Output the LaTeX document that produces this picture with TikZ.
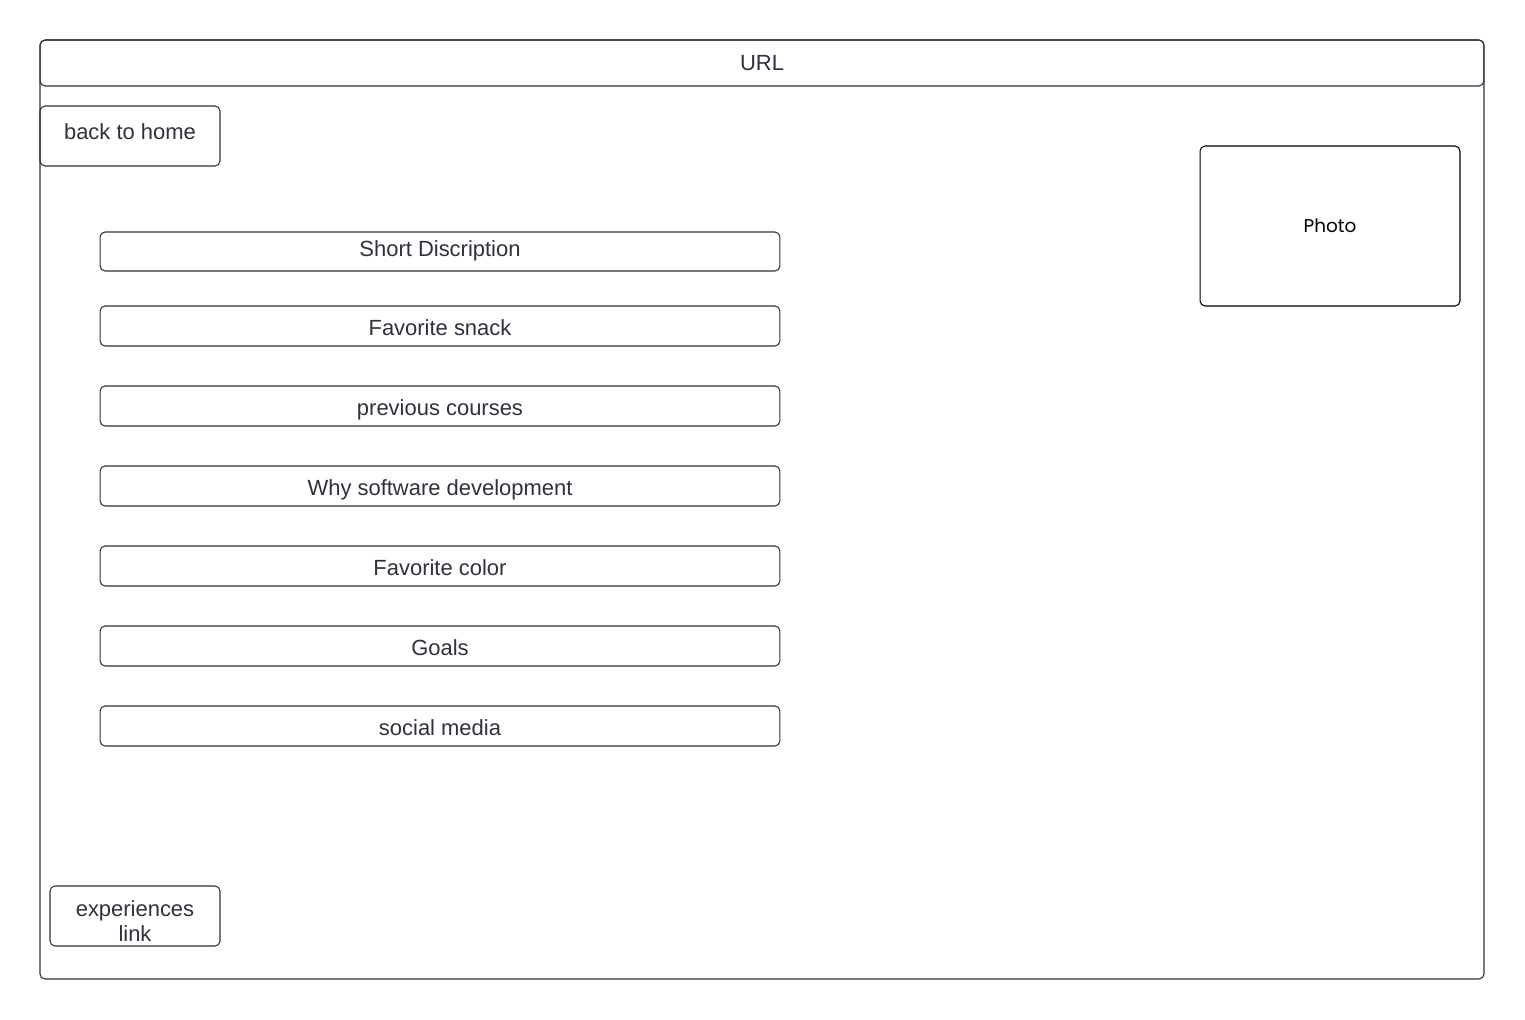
\documentclass[tikz,border=0pt]{standalone}
\usepackage{fontspec}
\setmainfont{Liberation Sans}
\newfontfamily\photofont{Poppins}
\definecolor{wire}{HTML}{2E323C}

\tikzset{
  box/.style={draw=wire, line width=0.6pt, rounded corners=0.1cm, text=wire, inner sep=0pt},
  field/.style={box, minimum width=13.6cm, minimum height=0.8cm, text height=12pt, text depth=0.7pt},
}

\begin{document}
\begin{tikzpicture}[x=0.02cm, y=-0.02cm, font=\fontsize{12.5}{14.7}\selectfont]
    % page size and background
    \fill[white] (0,0) rectangle (1525,1019);
    \useasboundingbox (0,0) rectangle (1525,1019);

    % browser window
    \draw[wire, line width=0.6pt, rounded corners=0.1cm] (40,40) rectangle (1484,979);
    \node[box, minimum width=28.88cm, minimum height=0.92cm] (url) at (762,63) {URL};

    % navigation
    \node[box, minimum width=3.6cm, minimum height=1.2cm, text height=5.5pt, text depth=1pt] (home) at (130,136) {back to home};
    \node[box, minimum width=3.4cm, minimum height=1.2cm] (exp) at (135,916) {};
    \node[align=center, text=wire, inner sep=0pt] (explabel) at ([yshift=-0.1cm]exp.center) {experiences\\link};

    % photo
    \node[box, draw=black, text=black, minimum width=5.2cm, minimum height=3.2cm,
          font=\photofont\fontsize{10.5}{12}\selectfont] (photo) at (1330,226) {Photo};

    % content fields
    \node[field, minimum height=0.78cm, text height=7pt, text depth=0.9pt] (desc) at (440,251.5) {Short Discription};
    \node[field] (snack) at (440,326) {Favorite snack};
    \node[field] (courses) at (440,406) {previous courses};
    \node[field] (why) at (440,486) {Why software development};
    \node[field] (color) at (440,566) {Favorite color};
    \node[field] (goals) at (440,646) {Goals};
    \node[field] (social) at (440,726) {social media};
\end{tikzpicture}
\end{document}
